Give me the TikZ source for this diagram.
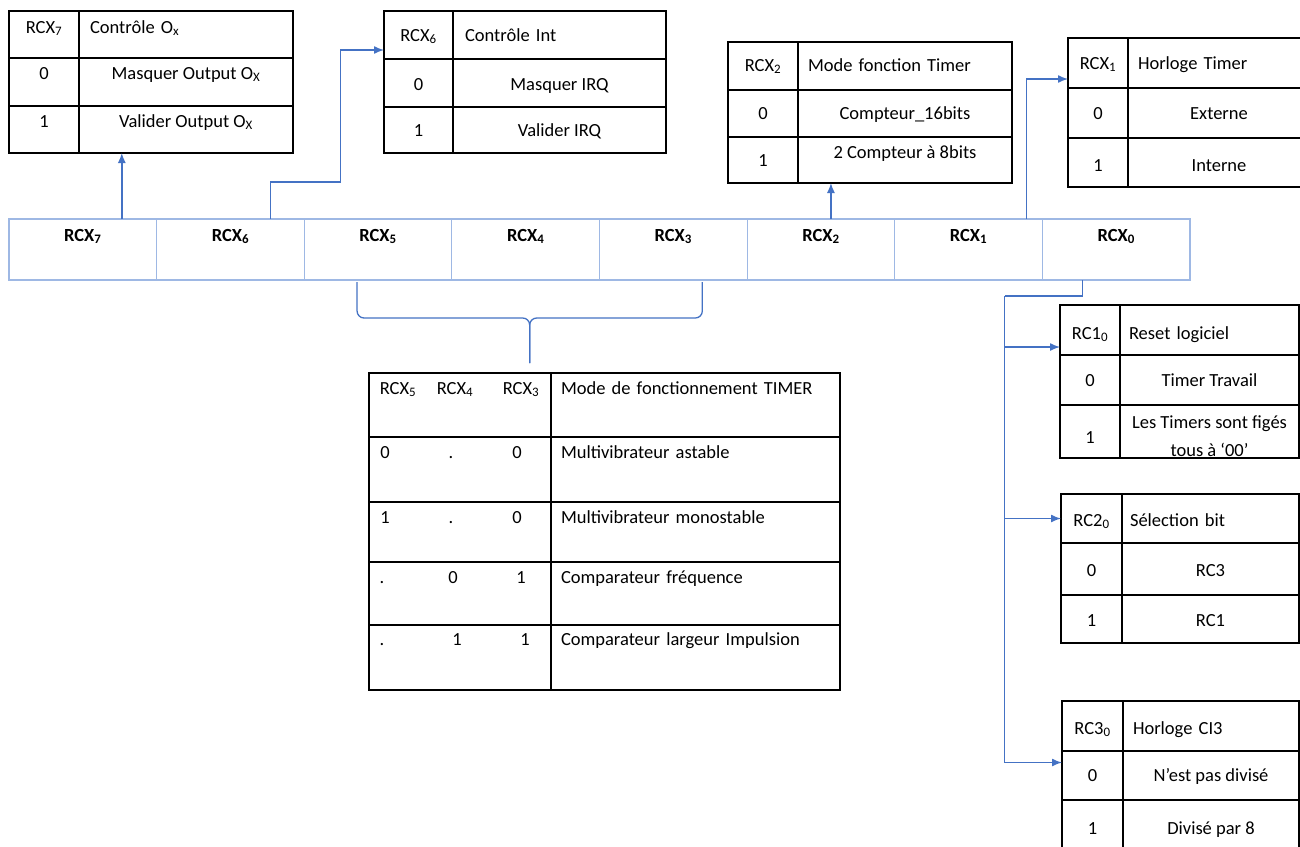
\documentclass[tikz,border=0pt]{standalone}
\usepackage{fontspec}
\setmainfont{Carlito}
\usetikzlibrary{positioning,calc,arrows.meta}

\definecolor{linkblue}{RGB}{68,114,196}
\definecolor{regblue}{RGB}{158,184,228}

\begin{document}
\begin{tikzpicture}[x=1pt, y=-1pt, node distance=0pt]
\tikzset{
    every node/.style={font=\fontsize{18.5}{22}\selectfont, inner sep=0pt, outer sep=0pt},
    cell/.style={rectangle, draw=black, line width=1.2pt, anchor=north west, text centered},
    tb/.style 2 args={text height=#1, text depth=#2},
    head/.style 2 args={align=left, inner xsep=#1, text width=#2},
    regcell/.style={rectangle, draw=regblue, line width=1.1pt, anchor=north west, minimum width=147.625pt, text height=22pt, text depth=39pt, font=\bfseries\fontsize{18.5}{22}\selectfont},
    val/.style={anchor=base},
    link/.style={draw=linkblue, line width=1.4pt, -{Latex[length=10pt, width=8pt]}},
    bus/.style={draw=linkblue, line width=1.4pt},
    brace/.style={draw=linkblue, line width=1.3pt, rounded corners=7pt}
}

\useasboundingbox (0,0) rectangle (1300,846);
\clip (0,0) rectangle (1300,846);
\fill[white] (0,0) rectangle (1300,846);

% register
\node[regcell]               (r7) at (9,219) {RCX\textsubscript{7}};
\node[regcell, right=of r7]  (r6) {RCX\textsubscript{6}};
\node[regcell, right=of r6]  (r5) {RCX\textsubscript{5}};
\node[regcell, right=of r5]  (r4) {RCX\textsubscript{4}};
\node[regcell, right=of r4]  (r3) {RCX\textsubscript{3}};
\node[regcell, right=of r3]  (r2) {RCX\textsubscript{2}};
\node[regcell, right=of r2]  (r1) {RCX\textsubscript{1}};
\node[regcell, right=of r1]  (r0) {RCX\textsubscript{0}};

% RCX7
\node[cell, minimum width=70pt, tb={22pt}{25pt}]                  (a0) at (9,11) {RCX\textsubscript{7}};
\node[cell, right=of a0, head={11pt}{192pt}, tb={22pt}{25pt}]     (a1) {Contrôle O\textsubscript{x}};
\node[cell, below=of a0, minimum width=70pt, tb={21pt}{27pt}]     (a2) {0};
\node[cell, right=of a2, minimum width=214pt, tb={21pt}{27pt}]    (a3) {Masquer Output O\textsubscript{X}};
\node[cell, below=of a2, minimum width=70pt, tb={21pt}{26pt}]     (a4) {1};
\node[cell, right=of a4, minimum width=214pt, tb={21pt}{26pt}]    (a5) {Valider Output O\textsubscript{X}};

% RCX6
\node[cell, minimum width=69pt, tb={30pt}{18pt}]                  (b0) at (384,11) {RCX\textsubscript{6}};
\node[cell, right=of b0, head={12pt}{189pt}, tb={30pt}{18pt}]     (b1) {Contrôle Int};
\node[cell, below=of b0, minimum width=69pt, tb={31pt}{17pt}]     (b2) {0};
\node[cell, right=of b2, minimum width=213pt, tb={31pt}{17pt}]    (b3) {Masquer IRQ};
\node[cell, below=of b2, minimum width=69pt, tb={29pt}{17pt}]     (b4) {1};
\node[cell, right=of b4, minimum width=213pt, tb={29pt}{17pt}]    (b5) {Valider IRQ};

% RCX2
\node[cell, minimum width=70pt, tb={29pt}{19pt}]                  (c0) at (728,42) {RCX\textsubscript{2}};
\node[cell, right=of c0, head={10pt}{194pt}, tb={29pt}{19pt}]     (c1) {Mode fonction Timer};
\node[cell, below=of c0, minimum width=70pt, tb={29pt}{18pt}]     (c2) {0};
\node[cell, right=of c2, minimum width=214pt, tb={29pt}{18pt}]    (c3) {Compteur\_16bits};
\node[cell, below=of c2, minimum width=70pt, tb={29pt}{17pt}]     (c4) {1};
\node[cell, right=of c4, minimum width=214pt, tb={21pt}{25pt}]    (c5) {2 Compteur à 8bits};

% RCX1
\node[cell, minimum width=60pt, tb={31pt}{19pt}]                  (d0) at (1068,38) {RCX\textsubscript{1}};
\node[cell, right=of d0, head={10pt}{162pt}, tb={31pt}{19pt}]     (d1) {Horloge Timer};
\node[cell, below=of d0, minimum width=60pt, tb={31pt}{19pt}]     (d2) {0};
\node[cell, right=of d2, minimum width=182pt, tb={31pt}{19pt}]    (d3) {Externe};
\node[cell, below=of d2, minimum width=60pt, tb={33pt}{16pt}]     (d4) {1};
\node[cell, right=of d4, minimum width=182pt, tb={33pt}{16pt}]    (d5) {Interne};

% RCX5 RCX4 RCX3
\node[cell, minimum width=182pt, minimum height=64pt]             (m0) at (369,373) {};
\node[cell, right=of m0, head={10pt}{269pt}, tb={21pt}{43pt}]     (m1) {Mode de fonctionnement TIMER};
\node[cell, below=of m0, minimum width=182pt, minimum height=65pt] (m2) {};
\node[cell, right=of m2, head={10pt}{269pt}, tb={21pt}{44pt}]     (m3) {Multivibrateur astable};
\node[cell, below=of m2, minimum width=182pt, minimum height=60pt] (m4) {};
\node[cell, right=of m4, head={10pt}{269pt}, tb={21pt}{39pt}]     (m5) {Multivibrateur monostable};
\node[cell, below=of m4, minimum width=182pt, minimum height=63pt] (m6) {};
\node[cell, right=of m6, head={10pt}{269pt}, tb={21pt}{42pt}]     (m7) {Comparateur fréquence};
\node[cell, below=of m6, minimum width=182pt, minimum height=65pt] (m8) {};
\node[cell, right=of m8, head={10pt}{269pt}, tb={20pt}{45pt}]     (m9) {Comparateur largeur Impulsion};

\node[val] (h5) at (398,394) {RCX\textsubscript{5}};
\node[val] (h4) at (455,394) {RCX\textsubscript{4}};
\node[val] (h3) at (521,394) {RCX\textsubscript{3}};
\node[val] (v15) at (385,458) {0};
\node[val] (v14) at (451,458) {.};
\node[val] (v13) at (517,458) {0};
\node[val] (v25) at (385,523) {1};
\node[val] (v24) at (451,523) {.};
\node[val] (v23) at (517,523) {0};
\node[val] (v35) at (382,583) {.};
\node[val] (v34) at (453,583) {0};
\node[val] (v33) at (521,583) {1};
\node[val] (v45) at (382,645) {.};
\node[val] (v44) at (457,645) {1};
\node[val] (v43) at (525,645) {1};

% RC1
\node[cell, minimum width=60pt, tb={34pt}{16pt}]                  (e0) at (1060,305) {RC1\textsubscript{0}};
\node[cell, right=of e0, head={9pt}{161pt}, tb={34pt}{16pt}]      (e1) {Reset logiciel};
\node[cell, below=of e0, minimum width=60pt, tb={31pt}{19pt}]     (e2) {0};
\node[cell, right=of e2, minimum width=179pt, tb={31pt}{19pt}]    (e3) {Timer Travail};
\node[cell, below=of e2, minimum width=60pt, tb={38pt}{15pt}]     (e4) {1};
\node[cell, right=of e4, minimum width=179pt, minimum height=53pt] (e5) {};
\node[align=center, font=\fontsize{18.5}{28}\selectfont] (e5t) at ([yshift=-5pt]e5.center) {Les Timers sont figés\\tous à ‘00’};

% RC2
\node[cell, minimum width=61pt, tb={32pt}{17pt}]                  (f0) at (1061,494) {RC2\textsubscript{0}};
\node[cell, right=of f0, head={8pt}{161pt}, tb={32pt}{17pt}]      (f1) {Sélection bit};
\node[cell, below=of f0, minimum width=61pt, tb={33pt}{19pt}]     (f2) {0};
\node[cell, right=of f2, minimum width=177pt, tb={33pt}{19pt}]    (f3) {RC3};
\node[cell, below=of f2, minimum width=61pt, tb={31pt}{17pt}]     (f4) {1};
\node[cell, right=of f4, minimum width=177pt, tb={31pt}{17pt}]    (f5) {RC1};

% RC3
\node[cell, minimum width=61pt, tb={33pt}{17pt}]                  (g0) at (1062,701) {RC3\textsubscript{0}};
\node[cell, right=of g0, head={10pt}{156pt}, tb={33pt}{17pt}]     (g1) {Horloge CI3};
\node[cell, below=of g0, minimum width=61pt, tb={30pt}{19pt}]     (g2) {0};
\node[cell, right=of g2, minimum width=176pt, tb={30pt}{19pt}]    (g3) {N’est pas divisé};
\node[cell, below=of g2, minimum width=61pt, tb={34pt}{16pt}]     (g4) {1};
\node[cell, right=of g4, minimum width=176pt, tb={34pt}{16pt}]    (g5) {Divisé par 8};

% arrows
\draw[link] ([xshift=39pt]r7.north) -- ([xshift=39pt]r7.north |- a5.south);
\draw[link] ([xshift=40pt]r6.north) -- ++(0,-37) -- ++(70,0) |- ([yshift=-15pt]b0.west);
\draw[link] ([xshift=10pt]r2.north) -- ([xshift=10pt]r2.north |- c5.south);
\draw[link] ([xshift=58pt]r1.north) |- ([yshift=-16pt]d0.west);

\coordinate (tap) at ([xshift=-111.5pt, yshift=-16pt]r0.south);
\draw[bus] ([xshift=-34pt]r0.south) |- (tap);
\draw[link] (tap) |- ([yshift=-17pt]e0.west);
\draw[link] (tap) |- (f0.west);
\draw[link] (tap) |- ([yshift=13pt]g2.west);

% brace
\coordinate (bl) at ([xshift=-21pt, yshift=-2pt]r5.south);
\coordinate (br) at ([xshift=29pt, yshift=-2pt]r3.south);
\coordinate (bm) at ($(bl)!.5!(br)+(0,36)$);
\draw[brace] (bl) |- (bm) -- ([yshift=10pt]bm |- m0.north);
\draw[brace] (br) |- (bm) -- ([yshift=10pt]bm |- m0.north);

\end{tikzpicture}
\end{document}
